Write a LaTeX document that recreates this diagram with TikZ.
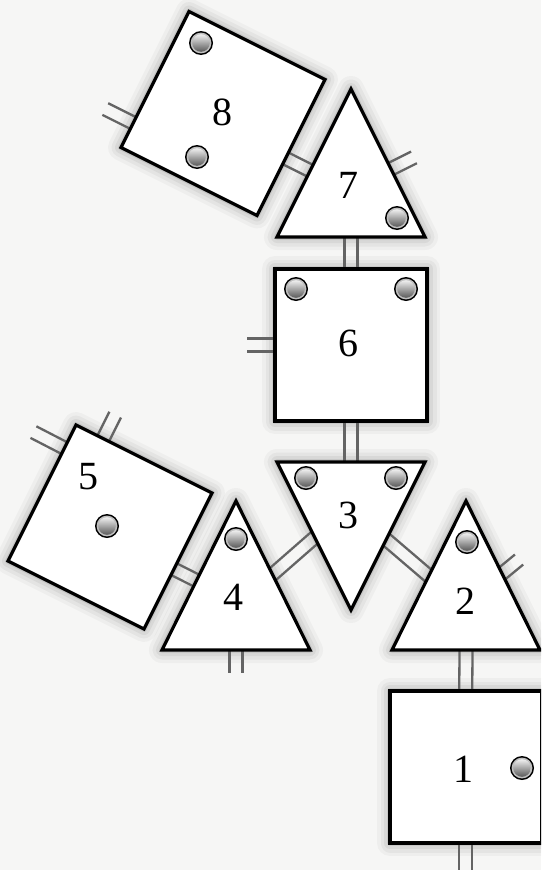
\documentclass[tikz,border=0pt]{standalone}
\usepackage{fontspec}
\setmainfont{Liberation Serif}
\usetikzlibrary{calc}
\definecolor{paper}{RGB}{246,246,245}
\definecolor{connc}{RGB}{100,100,100}
\tikzset{
  conn/.style={draw=connc, line width=2.3pt},
  shapebox/.style={fill=white, draw=black, line width=3.2pt, line join=miter},
  glowline/.style={draw=black, line join=round},
  numlab/.style={font=\fontsize{40}{40}\selectfont, inner sep=0pt},
}
\newcommand\dcon[4]{%
  \path #1 coordinate (dA0) #2 coordinate (dB0);
  \path ($(dA0)!-#3!(dB0)$) coordinate (dA) ($(dB0)!-#4!(dA0)$) coordinate (dB);
  \draw[conn] ($(dA)!6.5pt!90:(dB)$) -- ($(dB)!6.5pt!-90:(dA)$);
  \draw[conn] ($(dA)!6.5pt!-90:(dB)$) -- ($(dB)!6.5pt!90:(dA)$);
}
\newcommand\glow[1]{%
  \foreach \w/\o in {26/0.03,19/0.04,12/0.05,6/0.07}{\draw[glowline, line width=\w pt, opacity=\o] #1;}%
}
\newcommand\peg[1]{%
  \fill[black] #1 circle (12pt);
  \fill[gray!50] #1 circle (10.4pt);
  \shade[top color=gray!12, bottom color=gray!70!black] #1 circle (8.8pt);
}
\begin{document}
\begin{tikzpicture}[x=1pt,y=-1pt]
\useasboundingbox (0,0) rectangle (541,870);
\fill[paper] (0,0) rectangle (541,870);
\clip (0,0) rectangle (541,870);
% corners
\coordinate (s8t) at (189,11.5);  \coordinate (s8r) at (325,79.5);
\coordinate (s8b) at (257,215.5); \coordinate (s8l) at (121,147.5);
\coordinate (t7a) at (351,89); \coordinate (t7l) at (277,237); \coordinate (t7r) at (425,237);
\coordinate (s6tl) at (275,269); \coordinate (s6tr) at (427,269);
\coordinate (s6br) at (427,421); \coordinate (s6bl) at (275,421);
\coordinate (t3l) at (277,462); \coordinate (t3r) at (425,462); \coordinate (t3a) at (351,610);
\coordinate (s5t) at (76,425);  \coordinate (s5r) at (212,493);
\coordinate (s5b) at (144,629); \coordinate (s5l) at (8,561);
\coordinate (t4a) at (236,501); \coordinate (t4l) at (162,650); \coordinate (t4r) at (310,650);
\coordinate (t2a) at (466,501); \coordinate (t2l) at (392,650); \coordinate (t2r) at (540,650);
\coordinate (s1tl) at (390,691); \coordinate (s1tr) at (541.5,691);
\coordinate (s1br) at (541.5,843); \coordinate (s1bl) at (390,843);
% shadows
\glow{(s8t)--(s8r)--(s8b)--(s8l)--cycle}
\glow{(t7a)--(t7r)--(t7l)--cycle}
\glow{(s6tl)--(s6tr)--(s6br)--(s6bl)--cycle}
\glow{(t3l)--(t3r)--(t3a)--cycle}
\glow{(s5t)--(s5r)--(s5b)--(s5l)--cycle}
\glow{(t4a)--(t4r)--(t4l)--cycle}
\glow{(t2a)--(t2r)--(t2l)--cycle}
\glow{(s1tl)--(s1tr)--(s1br)--(s1bl)--cycle}
% connectors
\dcon{($(s8l)!0.18!(s8t)$)}{($(s8l)!0.18!(s8t)+(-28,-14)$)}{6pt}{0pt}
\dcon{($(s8r)!0.58!(s8b)$)}{($(t7l)!0.448!(t7a)$)}{6pt}{6pt}
\dcon{($(t7a)!0.54!(t7r)$)}{($(t7a)!0.54!(t7r)+(23,-11.5)$)}{6pt}{0pt}
\dcon{($(t7l)!0.5!(t7r)$)}{($(s6tl)!0.5!(s6tr)$)}{6pt}{6pt}
\dcon{($(s6tl)!0.5!(s6bl)$)}{($(s6tl)!0.5!(s6bl)+(-28,0)$)}{6pt}{0pt}
\dcon{($(s6bl)!0.5!(s6br)$)}{($(t3l)!0.5!(t3r)$)}{6pt}{6pt}
\dcon{($(s5l)!0.83!(s5t)$)}{($(s5l)!0.83!(s5t)+(-31,-16)$)}{6pt}{0pt}
\dcon{($(s5t)!0.2!(s5r)$)}{($(s5t)!0.2!(s5r)+(12,-24)$)}{6pt}{0pt}
\dcon{($(s5r)!0.56!(s5b)$)}{($(t4l)!0.466!(t4a)$)}{6pt}{6pt}
\dcon{($(t4a)!0.493!(t4r)$)}{($(t3l)!0.51!(t3a)$)}{6pt}{6pt}
\dcon{($(t3r)!0.524!(t3a)$)}{($(t2l)!0.497!(t2a)$)}{6pt}{6pt}
\dcon{($(t2a)!0.487!(t2r)$)}{($(t2a)!0.487!(t2r)+(17,-14)$)}{6pt}{0pt}
\dcon{($(t2l)!0.5!(t2r)$)}{($(s1tl)!0.5!(s1tr)$)}{6pt}{6pt}
\dcon{($(s1bl)!0.5!(s1br)$)}{($(s1bl)!0.5!(s1br)+(0,30)$)}{6pt}{0pt}
\dcon{($(t4l)!0.5!(t4r)$)}{($(t4l)!0.5!(t4r)+(0,23)$)}{6pt}{0pt}
% shapes
\draw[shapebox] (s8t)--(s8r)--(s8b)--(s8l)--cycle;
\draw[shapebox] (t7a)--(t7r)--(t7l)--cycle;
\draw[shapebox] (s6tl)--(s6tr)--(s6br)--(s6bl)--cycle;
\draw[shapebox] (t3l)--(t3r)--(t3a)--cycle;
\draw[shapebox] (s5t)--(s5r)--(s5b)--(s5l)--cycle;
\draw[shapebox] (t4a)--(t4r)--(t4l)--cycle;
\draw[shapebox] (t2a)--(t2r)--(t2l)--cycle;
\draw[shapebox] (s1tl)--(s1tr)--(s1br)--(s1bl)--cycle;
% pegs
\peg{(201,43)} \peg{(197,157)}
\peg{(397,218)}
\peg{(296,289)} \peg{(406,289)}
\peg{(306,478)} \peg{(396,478)}
\peg{(107,526)}
\peg{(236,539)}
\peg{(467,542)}
\peg{(522,768)}
% labels
\node[numlab] (l8) at (222,112) {8};
\node[numlab] (l7) at (348,185) {7};
\node[numlab] (l6) at (348,343) {6};
\node[numlab] (l5) at (88,477) {5};
\node[numlab] (l4) at (233,597) {4};
\node[numlab] (l3) at (348,515) {3};
\node[numlab] (l2) at (465,601) {2};
\node[numlab] (l1) at (463,769) {1};
\end{tikzpicture}
\end{document}
